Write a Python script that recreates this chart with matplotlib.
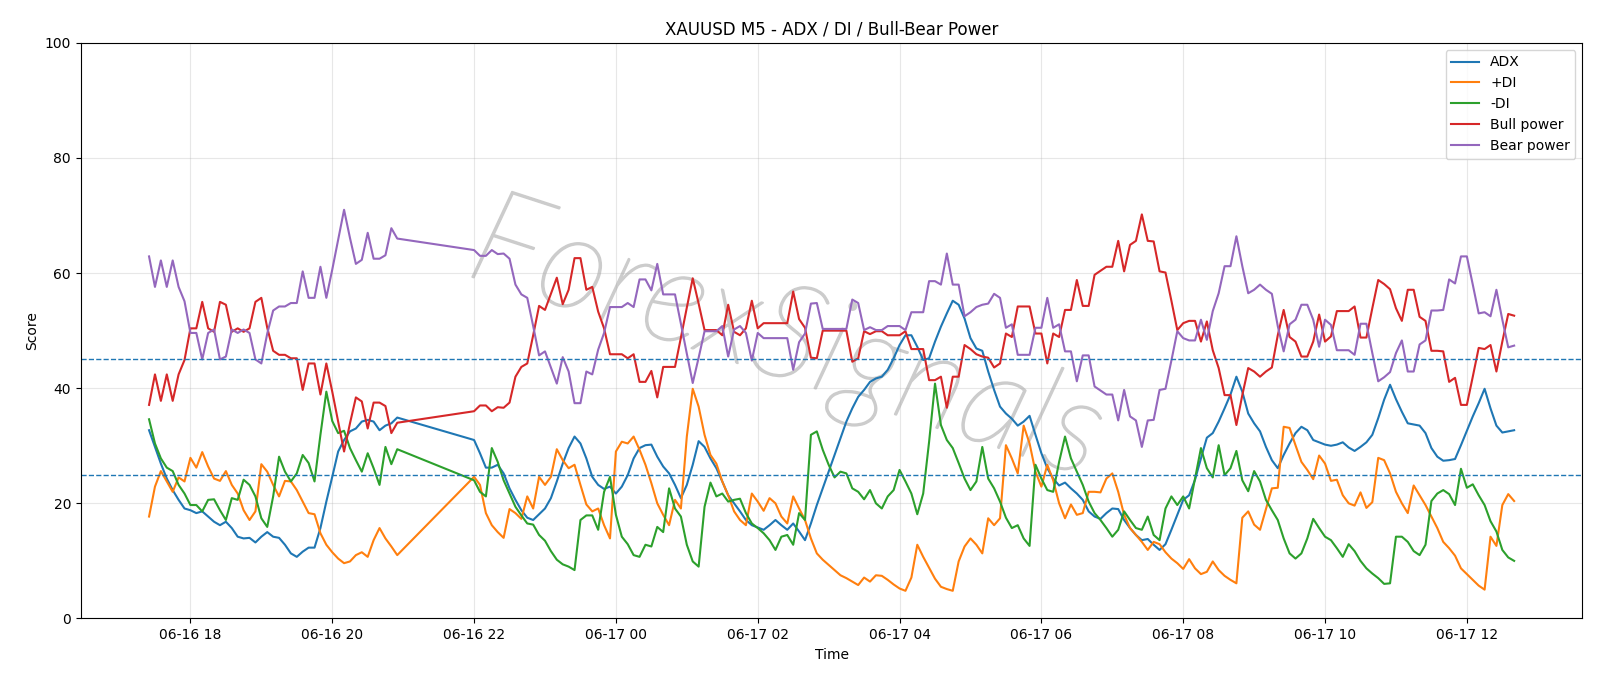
import matplotlib
matplotlib.use("Agg")
import matplotlib.pyplot as plt
import matplotlib.dates as mdates
import matplotlib.patheffects as pe
import pandas as pd

# ---- time axis (M5 bars, with a session gap 20:55 -> 22:00) ----
seg1_start, seg1_end = "2025-06-16 17:25", "2025-06-16 20:55"
seg2_start, seg2_end = "2025-06-16 22:00", "2025-06-17 12:40"

# ---- segment 1 values (17:25 .. 20:55) ----
adx_1 = [32.7, 29.8, 26.9, 24.3, 22.3, 20.6, 19.1, 18.8, 18.3, 18.6, 17.7, 16.8, 16.2, 16.8, 15.7, 14.2, 13.9, 14.0, 13.2, 14.2,
         15.0, 14.2, 14.0, 12.8, 11.3, 10.7, 11.6, 12.3, 12.3, 15.7, 20.3, 24.6, 29.0, 31.0, 32.5, 33.0, 34.2, 34.5, 34.2, 32.7,
         33.5, 33.9, 34.9]
pdi_1 = [17.7, 22.9, 25.6, 23.8, 22.0, 24.5, 23.8, 27.9, 26.2, 28.9, 26.4, 24.3, 23.9, 25.6, 23.2, 21.7, 18.8, 17.1, 18.6, 26.8,
         25.5, 23.2, 21.2, 23.9, 23.8, 22.3, 20.3, 18.3, 18.1, 14.8, 12.8, 11.5, 10.4, 9.6, 9.9, 11.0, 11.5, 10.7, 13.6, 15.7,
         13.9, 12.5, 11.0]
mdi_1 = [34.6, 30.4, 27.8, 26.2, 25.6, 23.2, 21.7, 19.7, 19.7, 18.6, 20.6, 20.7, 18.8, 17.1, 20.9, 20.6, 24.1, 23.2, 21.2, 17.4,
         15.9, 21.2, 28.1, 25.5, 23.8, 25.2, 28.4, 27.0, 23.8, 31.9, 39.4, 34.3, 32.2, 32.6, 29.6, 27.5, 25.5, 28.7, 26.1, 23.2,
         29.8, 26.8, 29.4]
bull_1 = [37.1, 42.4, 37.8, 42.4, 37.8, 42.4, 44.9, 50.4, 50.4, 55.0, 50.4, 49.8, 55.0, 54.5, 49.8, 50.4, 49.8, 50.4, 55.0, 55.7,
          50.5, 46.5, 45.8, 45.8, 45.2, 45.2, 39.7, 44.3, 44.3, 38.9, 44.3, 39.4, 34.2, 29.0, 33.9, 38.4, 37.7, 33.0, 37.5, 37.5,
          36.9, 32.2, 34.0]
bear_1 = [62.9, 57.6, 62.2, 57.6, 62.2, 57.6, 55.1, 49.6, 49.6, 45.0, 49.6, 50.2, 45.0, 45.5, 50.2, 49.6, 50.2, 49.6, 45.0, 44.3,
          49.5, 53.5, 54.2, 54.2, 54.8, 54.8, 60.3, 55.7, 55.7, 61.1, 55.7, 60.6, 65.8, 71.0, 66.1, 61.6, 62.3, 67.0, 62.5, 62.5,
          63.1, 67.8, 66.0]

# ---- segment 2 values (22:00 .. 12:40) ----
adx_2 = [31.0, 28.7, 26.2, 26.2, 26.7,
         25.2, 22.6, 20.6, 18.8, 17.5, 17.1, 18.1, 19.1, 20.9, 23.8, 26.9, 29.6, 31.6, 30.4, 27.8, 24.6, 23.2, 22.5, 22.9, 21.7,
         22.9, 24.9, 27.8, 29.6, 30.1, 30.2, 28.1, 26.4, 25.2, 23.2, 20.9, 23.2, 26.7, 30.8, 29.8, 27.8, 26.1, 23.8, 21.4, 20.0,
         18.6, 17.1, 16.2, 15.8, 15.4, 16.2, 17.1, 16.2, 15.4, 16.5, 15.1, 13.6, 16.5, 19.7, 22.6, 25.5, 28.4, 31.3, 34.2, 36.5,
         38.5, 39.7, 41.1, 41.7, 42.0, 43.2, 45.2, 47.5, 49.2, 49.2, 47.2, 44.9, 45.2, 48.1, 50.7, 53.0, 55.2, 54.5, 52.1, 48.7,
         46.9, 46.5, 42.9, 39.7, 36.8, 35.6, 34.7, 33.5, 34.2, 35.2, 31.9, 28.7, 26.1, 24.3, 23.1, 23.6, 22.6, 21.7, 20.6, 18.6,
         17.7, 17.3, 18.3, 19.1, 19.0, 17.1, 15.7, 14.5, 13.6, 13.8, 12.8, 11.9, 12.9, 15.4, 18.0, 20.6, 21.4, 24.1, 27.8, 31.4,
         32.2, 34.2, 36.5, 38.9, 42.0, 39.4, 35.6, 33.9, 32.5, 29.8, 27.5, 26.1, 28.4, 30.4, 32.2, 33.3, 32.7, 31.0, 30.6, 30.2,
         30.0, 30.2, 30.6, 29.7, 29.1, 29.8, 30.6, 31.9, 34.8, 38.0, 40.6, 38.1, 35.9, 33.9, 33.7, 33.5, 32.2, 29.6, 28.1, 27.4,
         27.5, 27.7, 30.1, 32.6, 35.1, 37.4, 39.9, 36.5, 33.5, 32.3, 32.5, 32.7]
pdi_2 = [24.6, 23.2, 18.3, 16.2, 15.0,
         14.0, 19.0, 18.3, 17.3, 21.2, 19.1, 24.6, 23.2, 24.6, 29.4, 27.5, 26.1, 26.7, 23.2, 19.8, 18.6, 19.1, 16.2, 13.9, 29.0,
         30.7, 30.4, 31.6, 29.3, 26.7, 23.5, 20.0, 18.0, 16.2, 20.6, 19.1, 31.6, 39.9, 36.8, 31.9, 28.4, 26.9, 23.8, 21.4, 18.6,
         17.1, 16.2, 21.7, 20.3, 18.7, 20.9, 20.0, 17.7, 16.5, 21.2, 19.1, 17.1, 13.9, 11.3, 10.2, 9.3, 8.4, 7.5, 7.0, 6.4,
         5.8, 7.1, 6.4, 7.5, 7.4, 6.7, 5.9, 5.2, 4.8, 7.1, 12.8, 10.7, 8.8, 6.9, 5.5, 5.1, 4.8, 9.9, 12.5, 13.9,
         12.8, 11.3, 17.4, 16.2, 17.4, 30.1, 27.8, 25.2, 33.5, 30.4, 25.5, 22.9, 26.7, 24.0, 20.0, 17.4, 19.8, 18.0, 18.3, 22.0,
         22.0, 21.9, 24.3, 25.2, 22.0, 18.0, 15.7, 14.5, 13.3, 11.9, 13.3, 12.9, 11.5, 10.4, 9.6, 8.6, 10.3, 8.7, 7.7, 8.1,
         9.9, 8.4, 7.4, 6.7, 6.1, 17.5, 18.6, 16.3, 15.4, 19.0, 22.6, 22.7, 33.3, 33.1, 30.1, 27.2, 25.8, 24.2, 28.3, 26.9,
         23.9, 24.1, 21.4, 20.0, 19.6, 21.9, 19.2, 20.2, 27.9, 27.5, 25.2, 22.0, 20.0, 18.3, 23.1, 21.4, 19.7, 17.7, 15.7, 13.3,
         12.2, 10.9, 8.7, 7.7, 6.7, 5.7, 5.0, 14.2, 12.6, 19.7, 21.6, 20.4]
mdi_2 = [24.0, 22.0, 21.2, 29.6, 27.2,
         24.0, 21.7, 19.4, 17.9, 16.5, 16.3, 14.5, 13.5, 11.7, 10.2, 9.4, 9.0, 8.4, 17.1, 17.9, 17.9, 15.4, 22.0, 24.6, 18.0,
         14.2, 12.9, 11.0, 10.7, 12.8, 12.5, 15.9, 15.0, 22.6, 19.1, 17.7, 12.8, 9.9, 9.0, 19.4, 23.6, 21.2, 21.7, 20.3, 20.6,
         20.8, 18.3, 16.5, 15.7, 14.8, 13.6, 11.9, 14.2, 14.5, 12.8, 18.3, 17.1, 31.9, 32.5, 29.3, 26.7, 24.5, 25.5, 25.2, 22.6,
         22.0, 20.7, 22.3, 20.0, 19.1, 21.2, 22.3, 25.8, 23.8, 21.7, 18.1, 21.7, 30.7, 40.8, 33.6, 31.0, 29.6, 27.0, 24.3, 22.3,
         23.8, 29.8, 24.3, 22.6, 20.3, 17.5, 15.7, 16.2, 13.9, 12.6, 26.7, 24.3, 22.3, 22.0, 27.2, 31.6, 27.8, 25.5, 23.2, 20.3,
         18.3, 17.1, 15.7, 14.2, 15.4, 18.6, 17.1, 15.7, 15.4, 17.7, 14.5, 13.6, 19.1, 21.2, 19.7, 21.2, 19.1, 24.3, 29.6, 26.1,
         24.5, 30.1, 24.9, 26.1, 29.1, 24.0, 22.1, 25.6, 23.8, 20.6, 18.8, 17.1, 13.9, 11.3, 10.4, 11.3, 13.9, 17.3, 15.7, 14.2,
         13.6, 12.2, 10.7, 12.9, 11.7, 10.0, 8.7, 7.8, 7.0, 6.0, 6.1, 14.2, 14.2, 13.3, 11.7, 11.0, 12.8, 20.4, 21.7, 22.3,
         21.6, 19.7, 26.0, 22.7, 23.3, 21.4, 19.7, 16.9, 15.1, 11.9, 10.6, 10.0]
bull_2 = [36.0, 37.0, 37.0, 36.0, 36.7,
          36.6, 37.5, 42.0, 43.7, 44.3, 49.2, 54.3, 53.6, 56.4, 59.2, 54.6, 57.1, 62.6, 62.6, 57.1, 57.6, 53.3, 50.4, 45.9, 45.9,
          45.9, 45.2, 45.9, 41.1, 41.1, 43.0, 38.4, 43.7, 43.7, 43.7, 48.8, 54.0, 59.1, 54.7, 50.1, 50.1, 50.1, 49.2, 54.5, 49.8,
          49.2, 50.4, 55.2, 50.4, 51.3, 51.3, 51.3, 51.3, 51.3, 56.8, 52.0, 50.5, 45.3, 45.2, 50.0, 50.0, 50.0, 50.0, 50.0, 44.6,
          45.2, 49.9, 49.4, 49.9, 49.9, 49.2, 49.2, 49.2, 49.9, 46.8, 46.8, 46.8, 41.4, 41.4, 42.0, 36.6, 42.0, 42.0, 47.5, 46.8,
          45.9, 45.5, 45.3, 43.6, 44.3, 49.5, 48.9, 54.2, 54.2, 54.2, 49.5, 49.5, 44.3, 49.5, 48.9, 53.6, 53.6, 58.8, 54.3, 54.3,
          59.7, 60.4, 61.1, 61.1, 65.6, 60.3, 64.9, 65.6, 70.2, 65.6, 65.5, 60.3, 60.1, 55.2, 50.1, 51.3, 51.7, 51.7, 48.1, 51.6,
          46.6, 43.5, 38.8, 38.8, 33.6, 38.8, 43.5, 42.9, 42.0, 42.9, 43.6, 49.2, 53.6, 48.9, 48.1, 45.5, 45.5, 48.1, 52.8, 48.1,
          49.0, 53.4, 53.4, 53.4, 54.2, 48.8, 48.8, 53.9, 58.8, 58.1, 57.2, 53.9, 51.7, 57.1, 57.1, 52.4, 51.7, 46.5, 46.5, 46.4,
          41.1, 41.8, 37.1, 37.1, 42.0, 47.0, 46.8, 47.5, 42.9, 48.1, 52.9, 52.6]
bear_2 = [64.0, 63.0, 63.0, 64.0, 63.3,
          63.4, 62.5, 58.0, 56.3, 55.7, 50.8, 45.7, 46.4, 43.6, 40.8, 45.4, 42.9, 37.4, 37.4, 42.9, 42.4, 46.7, 49.6, 54.1, 54.1,
          54.1, 54.8, 54.1, 58.9, 58.9, 57.0, 61.6, 56.3, 56.3, 56.3, 51.2, 46.0, 40.9, 45.3, 49.9, 49.9, 49.9, 50.8, 45.5, 50.2,
          50.8, 49.6, 44.8, 49.6, 48.7, 48.7, 48.7, 48.7, 48.7, 43.2, 48.0, 49.5, 54.7, 54.8, 50.3, 50.3, 50.3, 50.3, 50.3, 55.4,
          54.8, 50.1, 50.6, 50.1, 50.1, 50.8, 50.8, 50.8, 50.1, 53.2, 53.2, 53.2, 58.6, 58.6, 58.0, 63.4, 58.0, 58.0, 52.5, 53.2,
          54.1, 54.5, 54.7, 56.4, 55.7, 50.5, 51.1, 45.8, 45.8, 45.8, 50.5, 50.5, 55.7, 50.5, 51.1, 46.4, 46.4, 41.2, 45.7, 45.7,
          40.3, 39.6, 38.9, 38.9, 34.4, 39.7, 35.1, 34.4, 29.8, 34.4, 34.5, 39.7, 39.9, 44.8, 49.9, 48.7, 48.3, 48.3, 51.9, 48.4,
          53.4, 56.5, 61.2, 61.2, 66.4, 61.2, 56.5, 57.1, 58.0, 57.1, 56.4, 50.8, 46.4, 51.1, 51.9, 54.5, 54.5, 51.9, 47.2, 51.9,
          51.0, 46.6, 46.6, 46.6, 45.8, 51.2, 51.2, 46.1, 41.2, 41.9, 42.8, 46.1, 48.3, 42.9, 42.9, 47.6, 48.3, 53.5, 53.5, 53.6,
          58.9, 58.2, 62.9, 62.9, 58.0, 53.0, 53.2, 52.5, 57.1, 51.9, 47.1, 47.4]

series_labels = ["ADX", "+DI", "-DI", "Bull power", "Bear power"]
threshold_levels = [45, 25]
watermark_text = "ForexSignals"

times = pd.date_range(seg1_start, seg1_end, freq="5min").append(
    pd.date_range(seg2_start, seg2_end, freq="5min"))
adx = adx_1 + adx_2
pdi = pdi_1 + pdi_2
mdi = mdi_1 + mdi_2
bull = bull_1 + bull_2
bear = bear_1 + bear_2

fig = plt.figure(figsize=(16, 6.86), dpi=100)
ax = fig.add_axes([0.0505, 0.0985, 0.9385, 0.839])

for vals, lab in zip([adx, pdi, mdi, bull, bear], series_labels):
    ax.plot(times, vals, label=lab, linewidth=1.5)

for lvl in threshold_levels:
    ax.axhline(lvl, linestyle="--", linewidth=1.0, color="C0")

ax.text(0.47, 0.48, watermark_text, transform=ax.transAxes, fontsize=96,
        color="#cccccc", rotation=-18, ha="center", va="center",
        fontstyle="italic", fontweight="light", family=["Lato", "DejaVu Sans"],
        zorder=0,
        path_effects=[pe.withStroke(linewidth=1.4, foreground="#cccccc")])

ax.set_ylim(0, 100)
ax.set_title("XAUUSD M5 - ADX / DI / Bull-Bear Power")
ax.set_xlabel("Time")
ax.set_ylabel("Score")
ax.grid(True, alpha=0.3)
ax.xaxis.set_major_locator(mdates.HourLocator(byhour=range(0, 24, 2)))
ax.xaxis.set_major_formatter(mdates.DateFormatter("%m-%d %H"))
ax.legend(loc="upper right")

fig.savefig("out.png", dpi=100)
